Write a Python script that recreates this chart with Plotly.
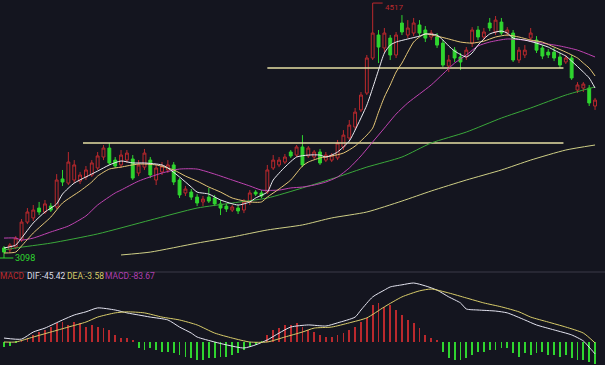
import plotly.graph_objects as go

# ---------------- data ----------------
opens = [3154,3143,3159,3198,3298,3321,3376,3354,3387,3382,3538,3515,3532,3526,3549,3560,3599,3660,3710,3643,
         3616,3643,3649,3571,3604,3643,3532,3577,3588,3616,3532,3460,3465,3437,3410,3437,3432,3399,3387,3365,
         3376,3365,3410,3465,3460,3465,3599,3616,3632,3688,3671,3716,3666,3660,3688,3643,3643,3655,3716,3766,
         3827,3922,4016,4211,4339,4267,4322,4228,4406,4339,4350,4395,4367,4328,4328,4294,4166,4255,4217,4217,
         4294,4367,4328,4406,4356,4411,4350,4350,4200,4228,4322,4311,4267,4244,4244,4217,4189,4211,4033,4044,
         4044,3944]
highs = [3165,3181,3220,3315,3376,3393,3410,3421,3404,3565,3588,3688,3643,3577,3610,3643,3688,3727,3738,3660,
         3699,3699,3671,3643,3705,3660,3616,3632,3643,3632,3543,3499,3482,3454,3443,3488,3449,3421,3399,3393,
         3393,3426,3476,3476,3476,3616,3671,3660,3677,3699,3727,3782,3721,3699,3705,3688,3682,3755,3810,3866,
         3933,4022,4228,4517,4367,4378,4339,4356,4450,4422,4434,4422,4389,4367,4350,4311,4228,4272,4239,4272,
         4383,4389,4378,4434,4445,4434,4383,4367,4272,4283,4378,4333,4283,4261,4267,4239,4228,4228,4077,4077,
         4061,3989]
lows = [3098,3131,3148,3187,3287,3304,3337,3343,3354,3371,3499,3504,3515,3510,3532,3549,3588,3643,3616,3599,
        3599,3627,3532,3554,3588,3543,3504,3560,3571,3504,3432,3443,3421,3387,3387,3404,3387,3337,3354,3354,
        3343,3348,3393,3443,3432,3454,3588,3604,3621,3655,3660,3604,3655,3649,3616,3632,3632,3643,3699,3755,
        3810,3910,4005,4200,4183,4244,4200,4211,4339,4322,4333,4333,4300,4311,4267,4161,4133,4189,4144,4200,
        4272,4311,4311,4361,4339,4339,4333,4189,4183,4211,4300,4239,4205,4211,4194,4155,4178,4089,4016,4022,
        3944,3922]
closes = [3131,3170,3209,3298,3354,3365,3354,3399,3365,3532,3521,3632,3616,3560,3588,3627,3666,3710,3627,3610,
          3671,3682,3543,3616,3682,3560,3599,3610,3616,3521,3449,3482,3437,3404,3426,3415,3399,3376,3371,3382,
          3360,3410,3460,3454,3443,3588,3643,3643,3660,3666,3716,3616,3710,3688,3627,3671,3671,3738,3782,3838,
          3910,4005,4211,4350,4272,4350,4228,4339,4356,4378,4406,4350,4322,4350,4283,4172,4200,4211,4189,4255,
          4367,4328,4356,4378,4422,4350,4367,4200,4255,4255,4350,4255,4222,4228,4211,4172,4211,4100,4061,4066,
          3961,3977]

# moving averages (candle index, value)
ma5_x = [0,2,3,5,7,9,10,12,14,16,18,20,22,24,27,28,30,32,33,35,37,40,42,43,45,46,48,50,52,54,55,56,57,59,60,
         62,63,64,65,66,67,69,71,72,74,75,76,77,79,80,81,83,85,86,87,89,91,93,94,96,97,99,100,101]
ma5_y = [3154,3170,3209,3293,3354,3399,3454,3515,3549,3582,3616,3638,3627,3627,3616,3599,3549,3493,3465,3454,
         3421,3393,3410,3432,3465,3532,3604,3660,3671,3671,3660,3671,3688,3749,3810,
         3949,4044,4144,4239,4283,4300,4317,4333,4345,4339,4311,4278,4250,4217,4239,4283,4345,4361,4350,4322,
         4311,4294,4272,4255,4222,4194,4133,4100,4044]
ma10_x = [0,2,3,5,8,10,13,15,16,18,20,23,26,29,31,33,35,37,39,42,44,45,47,49,51,52,54,56,58,60,62,63,64,65,66,
          67,68,69,70,71,72,74,76,78,80,82,84,86,88,90,92,94,96,98,99,100,101]
ma10_y = [3126,3131,3165,3237,3326,3404,3471,3521,3554,3593,3604,3621,3616,3588,3554,3526,3493,3465,3432,3410,
          3410,3437,3482,3532,3610,3632,3655,3666,3682,3721,3782,3821,3910,3994,4061,
          4133,4183,4244,4300,4328,4345,4333,4317,4300,4294,4305,4328,4339,4328,4311,4300,4272,4244,4211,4183,
          4155,4111]
ma20_x = [0,2,3,5,8,11,14,16,19,20,23,27,30,33,36,39,42,44,47,49,51,53,55,57,59,61,63,65,67,69,71,73,75,77,79,
          81,83,86,89,92,95,98,101]
ma20_y = [3209,3209,3198,3209,3243,3276,3332,3393,3460,3476,3526,3571,3593,3593,3565,3532,3499,3476,3476,3488,
          3493,3504,3521,3549,3599,3666,3744,3821,3899,3961,4011,4061,4122,4183,4228,
          4278,4300,4317,4311,4294,4278,4255,4217]
ma60_x = [0,2,8,16,25,33,39,45,51,57,62,68,73,79,85,90,96,99,101]
ma60_y = [3143,3154,3181,3232,3309,3376,3404,3432,3488,3549,3604,3660,3738,3799,3877,3933,4005,4033,4050]
ma120_x = [20,25,33,39,45,51,56,62,68,73,79,85,90,96,101]
ma120_y = [3115,3131,3181,3215,3254,3282,3321,3354,3415,3471,3532,3588,3643,3699,3727]

# support / resistance lines: level, first candle, last candle
level_values = [4155, 3738]
level_starts = [45, 13.5]
level_ends = [95.6, 95.6]

# MACD
hist = [-20,-15,-5,8,14,27,39,46,58,71,78,65,78,71,58,65,58,52,46,27,
        14,14,8,-24,-31,-24,-31,-37,-37,-43,-50,-56,-62,-69,-69,-62,-62,-56,-56,-50,
        -43,-31,-18,-11,-3,27,46,52,65,65,71,58,46,39,27,20,20,27,33,46,
        58,78,90,141,148,135,141,122,103,84,71,52,27,14,5,-37,-62,-69,-69,-62,
        -50,-37,-37,-31,-31,-24,-24,-43,-56,-43,-50,-43,-37,-50,-50,-56,-50,-62,-69,-69,
        -75,-83.67]
dif_x = [0,3,5,7,10,12,14,16,19,21,23,25,28,30,32,33,36,38,41,43,45,47,49,52,55,57,60,61,63,65,66,68,70,72,74,
         76,78,79,81,84,86,89,91,94,97,99,100,101]
dif_y = [15,11,38,53,84,103,115,130,122,111,103,95,84,57,34,19,0,-11,-23,-11,8,34,57,65,61,73,95,122,172,198,
         210,218,225,214,198,172,149,126,122,118,111,84,65,46,27,4,-20,-45.42]
dea_x = [0,2,5,8,11,14,16,19,21,24,27,30,33,36,39,42,45,48,51,53,56,59,62,65,68,71,73,76,79,82,85,88,90,93,96,
         99,101]
dea_y = [0,0,19,38,57,76,95,111,115,111,95,84,65,34,15,0,0,19,38,53,57,73,92,134,172,195,202,187,168,149,134,
         115,95,76,57,34,-3.58]

# ---------------- style ----------------
BG = "#14151f"
RED = "#bb292d"
GREEN = "#2fd52f"
N = len(closes)
xs = list(range(N))
XR = [-0.684, 102.7]

fig = go.Figure()

fig.add_trace(go.Candlestick(
    x=xs, open=opens, high=highs, low=lows, close=closes,
    increasing=dict(line=dict(color=RED, width=1), fillcolor=BG),
    decreasing=dict(line=dict(color=GREEN, width=1), fillcolor=GREEN),
    whiskerwidth=0, showlegend=False, hoverinfo="skip"))

for lv, s, e in zip(level_values, level_starts, level_ends):
    fig.add_trace(go.Scatter(x=[s, e], y=[lv, lv], mode="lines",
                             line=dict(color="#e6dfa4", width=1.5), showlegend=False, hoverinfo="skip"))

for mx, my, col in [(ma120_x, ma120_y, "#cfcf86"), (ma60_x, ma60_y, "#3aa83a"),
                    (ma20_x, ma20_y, "#c043b2"), (ma10_x, ma10_y, "#e6c878"),
                    (ma5_x, ma5_y, "#ececf2")]:
    fig.add_trace(go.Scatter(x=mx, y=my, mode="lines", line=dict(color=col, width=1, shape="spline", smoothing=0.6),
                             showlegend=False, hoverinfo="skip"))

# high / low markers
hi_i = max(range(N), key=lambda k: highs[k])
lo_i = min(range(N), key=lambda k: lows[k])
fig.add_trace(go.Scatter(x=[hi_i, hi_i + 1.7], y=[highs[hi_i]] * 2, mode="lines",
                         line=dict(color=RED, width=1), showlegend=False, hoverinfo="skip"))
fig.add_annotation(x=hi_i + 1.8, y=highs[hi_i], xref="x", yref="y", text=str(highs[hi_i]),
                   showarrow=False, xanchor="left", yanchor="top", yshift=2, font=dict(color=RED, size=8))
fig.add_trace(go.Scatter(x=[XR[0], lo_i + 1.6], y=[lows[lo_i]] * 2, mode="lines",
                         line=dict(color=GREEN, width=1), showlegend=False, hoverinfo="skip"))
fig.add_annotation(x=lo_i + 1.6, y=lows[lo_i], xref="x", yref="y", text=str(lows[lo_i]),
                   showarrow=False, xanchor="left", yanchor="middle", font=dict(color=GREEN, size=9))

# MACD panel
fig.add_trace(go.Bar(x=xs, y=hist, width=0.14, xaxis="x2", yaxis="y2",
                     marker=dict(color=[RED if v >= 0 else GREEN for v in hist], line=dict(width=0)),
                     showlegend=False, hoverinfo="skip"))
fig.add_trace(go.Scatter(x=dif_x, y=dif_y, mode="lines", xaxis="x2", yaxis="y2",
                         line=dict(color="#e4e4f0", width=1, shape="spline", smoothing=0.6), showlegend=False, hoverinfo="skip"))
fig.add_trace(go.Scatter(x=dea_x, y=dea_y, mode="lines", xaxis="x2", yaxis="y2",
                         line=dict(color="#d8cc6a", width=1, shape="spline", smoothing=0.6), showlegend=False, hoverinfo="skip"))

MAIN_BOTTOM = 1 - 271 / 365
MACD_TOP = 1 - 272 / 365
fig.add_shape(type="line", xref="paper", yref="paper", x0=0, x1=1, y0=MACD_TOP, y1=MACD_TOP,
              line=dict(color="#3a3b48", width=1))

label_y = 1 - 276 / 365
labels = [("MACD", RED, -2 / 605), ("DIF:%.2f" % dif_y[-1], "#dcdce6", 25 / 605),
          ("DEA:%.2f" % dea_y[-1], "#d8cc6a", 65 / 605), ("MACD:%.2f" % hist[-1], "#b040b0", 103 / 605)]
for t, c, xp in labels:
    fig.add_annotation(x=xp, y=label_y, xref="paper", yref="paper", text=t, showarrow=False,
                       xanchor="left", yanchor="middle", font=dict(color=c, size=8.5, family="Roboto"))

fig.update_layout(
    width=605, height=365, margin=dict(l=0, r=0, t=0, b=0),
    paper_bgcolor=BG, plot_bgcolor=BG,
    font=dict(family="Roboto, Noto Sans, sans-serif"),
    xaxis=dict(range=XR, visible=False, rangeslider=dict(visible=False), domain=[0, 1]),
    yaxis=dict(range=[3025.7, 4534], visible=False, domain=[MAIN_BOTTOM, 1]),
    xaxis2=dict(range=XR, visible=False, anchor="y2", domain=[0, 1]),
    yaxis2=dict(range=[-87.8, 267], visible=False, domain=[0, MACD_TOP]),
    bargap=0,
)

fig.write_html("out.html", config={"displayModeBar": False},
               post_script="document.body.style.margin='0';document.body.style.background='%s';" % BG)
